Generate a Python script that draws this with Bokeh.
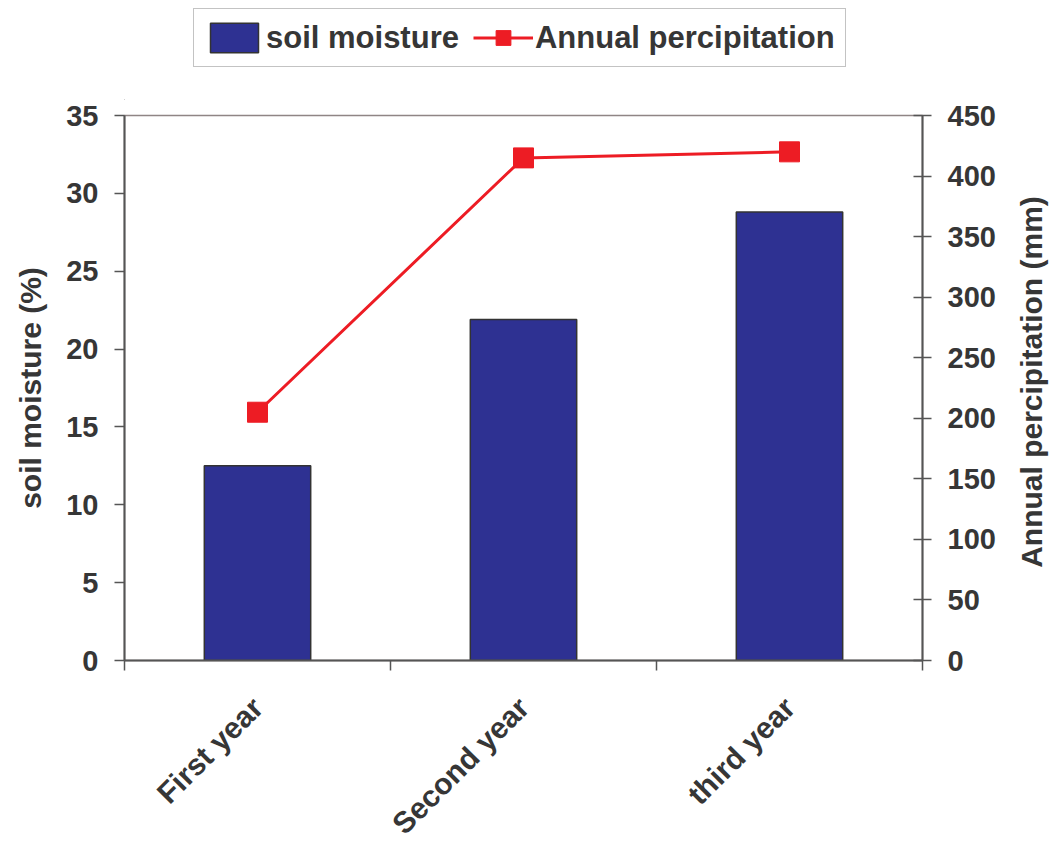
import numpy as np
from bokeh.plotting import figure
from bokeh.layouts import column, row
from bokeh.models import (Range1d, LinearAxis, FixedTicker, Legend, LegendItem, Label)
from bokeh.embed import file_html
from bokeh.resources import INLINE

categories = ["First year", "Second year", "third year"]
soil_moisture = [12.5, 21.9, 28.8]
annual_precipitation = [205, 415, 420]
left_ticks = [0, 5, 10, 15, 20, 25, 30, 35]
right_ticks = [0, 50, 100, 150, 200, 250, 300, 350, 400, 450]

FONT = "Liberation Sans"
TXT = "#363636"
AX = "#555555"
BAR = dict(fill_color="#2E3192", line_color="#333333", line_width=1.5)
LINE = dict(line_color="#ED1C24", line_width=3)
MARK = dict(marker="square", size=20, fill_color="#ED1C24", line_color="#ED1C24")

xs = [float(i) + 0.5 for i in range(len(categories))]
bounds = [float(i) for i in range(len(categories) + 1)]

TOP, FRAME_W, FRAME_H, BOTTOM, LEFT, RIGHT = 15, 798, 545, 182, 124, 85
LEG_H = 100

# ---------------- main chart ----------------
p = figure(frame_width=FRAME_W, frame_height=FRAME_H, output_backend="svg", toolbar_location=None,
           x_range=Range1d(0, len(categories)),
           y_range=Range1d(left_ticks[0], left_ticks[-1]),
           min_border_left=LEFT, min_border_right=RIGHT, min_border_top=TOP,
           min_border_bottom=BOTTOM)
p.extra_y_ranges = {"precip": Range1d(right_ticks[0], right_ticks[-1])}
p.grid.visible = False
p.outline_line_color = "#8f8585"
p.outline_line_width = 1.5
p.background_fill_color = "white"
p.border_fill_color = "white"

bars = p.vbar(x=xs, top=soil_moisture, width=0.4, **BAR)
line = p.line(xs, annual_precipitation, y_range_name="precip", **LINE)
sq = p.scatter(xs, annual_precipitation, y_range_name="precip", **MARK)

# x axis
xa = p.xaxis[0]
xa.ticker = FixedTicker(ticks=xs, minor_ticks=bounds)
xa.major_label_overrides = {x: c for x, c in zip(xs, categories)}
xa.major_label_orientation = np.pi / 4
xa.major_tick_line_color = None
xa.major_tick_out = 0
xa.major_tick_in = 0
xa.minor_tick_in = 0
xa.minor_tick_out = 10
xa.minor_tick_line_color = AX
xa.minor_tick_line_width = 1.5
xa.axis_line_color = AX
xa.axis_line_width = 2
xa.major_label_standoff = 32
xa.major_label_text_font = FONT
xa.major_label_text_font_style = "bold"
xa.major_label_text_font_size = "30px"
xa.major_label_text_color = TXT

# left axis
ya = p.yaxis[0]
ya.ticker = FixedTicker(ticks=left_ticks)
ya.minor_tick_line_color = None
ya.major_tick_in = 0
ya.major_tick_out = 10
ya.major_tick_line_color = AX
ya.major_tick_line_width = 1.5
ya.axis_line_color = AX
ya.axis_line_width = 2
ya.major_label_standoff = 16
ya.major_label_text_font = FONT
ya.major_label_text_font_style = "bold"
ya.major_label_text_font_size = "29px"
ya.major_label_text_color = TXT
ya.axis_label = "soil moisture (%)"
ya.axis_label_text_font = FONT
ya.axis_label_text_font_style = "bold"
ya.axis_label_text_font_size = "30px"
ya.axis_label_text_color = TXT
ya.axis_label_standoff = 16

# right axis
ra = LinearAxis(y_range_name="precip", ticker=FixedTicker(ticks=right_ticks))
ra.minor_tick_line_color = None
ra.major_tick_in = 9
ra.major_tick_out = 9
ra.major_tick_line_color = AX
ra.major_tick_line_width = 1.5
ra.axis_line_color = AX
ra.axis_line_width = 2
ra.major_label_standoff = 16
ra.major_label_text_font = FONT
ra.major_label_text_font_style = "bold"
ra.major_label_text_font_size = "29px"
ra.major_label_text_color = TXT
p.add_layout(ra, "right")

# ---------------- right-axis title strip ----------------
TF_W = 1050 - (LEFT + FRAME_W + RIGHT)
tf = figure(width=TF_W, height=TOP + FRAME_H + BOTTOM, output_backend="svg",
            toolbar_location=None, x_axis_type=None, y_axis_type=None,
            min_border_left=0, min_border_right=0, min_border_top=TOP,
            min_border_bottom=BOTTOM,
            x_range=Range1d(0, 1), y_range=Range1d(right_ticks[0], right_ticks[-1]))
tf.grid.visible = False
tf.outline_line_color = None
tf.background_fill_color = "white"
tf.border_fill_color = "white"
tf.add_layout(Label(x=24, x_units="screen",
                    y=(right_ticks[0] + right_ticks[-1]) / 2,
                    text="Annual percipitation (mm)", angle=np.pi / 2,
                    text_align="center", text_baseline="middle",
                    text_font=FONT, text_font_style="bold", text_font_size="30px",
                    text_color=TXT))

# ---------------- legend strip above the chart ----------------
lf = figure(width=1050, height=LEG_H, output_backend="svg", toolbar_location=None,
            x_axis_type=None, y_axis_type=None,
            min_border_left=LEFT, min_border_right=0, min_border_top=0, min_border_bottom=0,
            x_range=Range1d(100, 101), y_range=Range1d(100, 101))
lf.grid.visible = False
lf.outline_line_color = None
lf.background_fill_color = "white"
lf.border_fill_color = "white"
# same series, outside the strip's visible ranges: only their legend swatches show
lbars = lf.vbar(x=xs, top=soil_moisture, width=0.4, **BAR)
lline = lf.line(xs, annual_precipitation, **LINE)
lsq = lf.scatter(xs, annual_precipitation, **MARK)

legend = Legend(items=[LegendItem(label="soil moisture", renderers=[lbars]),
                       LegendItem(label="Annual percipitation", renderers=[lline, lsq])],
                orientation="horizontal", location=(69, LEG_H - 67),
                glyph_width=60, glyph_height=37, padding=10, spacing=14,
                label_standoff=2, margin=0,
                label_text_font=FONT, label_text_font_style="bold",
                label_text_font_size="31px", label_text_color=TXT,
                border_line_color="#888888", border_line_width=1.5,
                background_fill_color="white", background_fill_alpha=1.0)
lf.add_layout(legend, "center")

layout = column(lf, row(p, tf, spacing=0), spacing=0)
open("out.html", "w").write(file_html(layout, INLINE))
